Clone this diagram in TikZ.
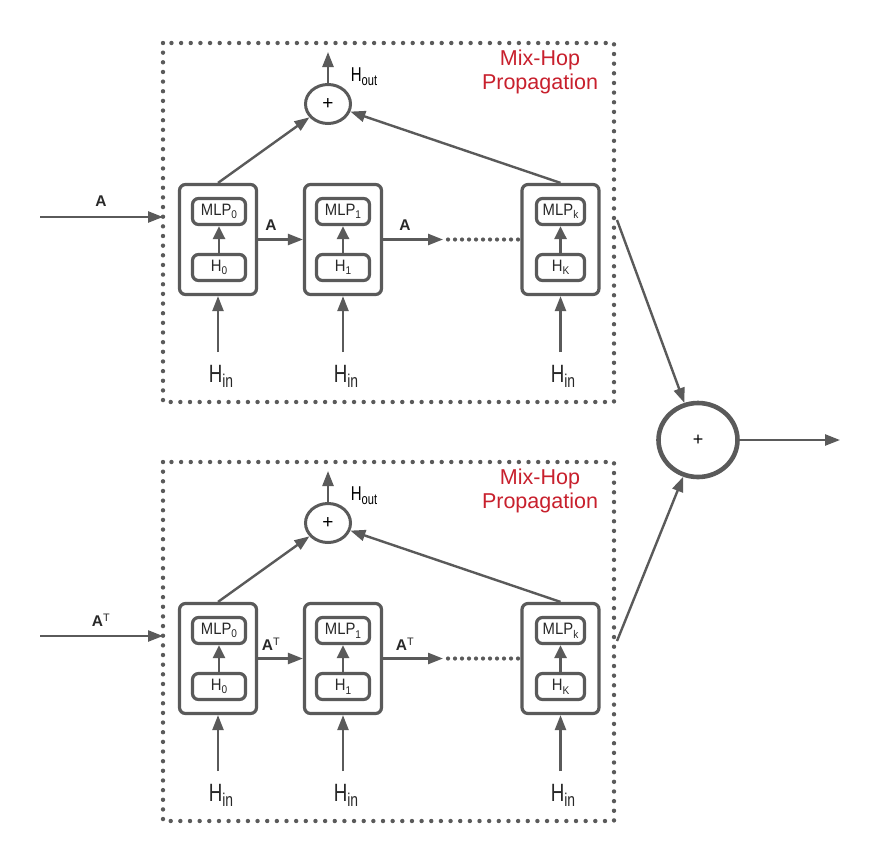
\documentclass[tikz,border=0pt]{standalone}
\usepackage{fontspec}
\setmainfont{Liberation Sans}
\newfontfamily\condfont[FakeStretch=0.75]{Liberation Sans}
\newfontfamily\midfont[FakeStretch=0.9]{Liberation Sans}
\usetikzlibrary{arrows.meta,shapes.geometric}
\definecolor{lc}{RGB}{90,90,90}
\definecolor{tc}{RGB}{40,40,40}
\definecolor{redtxt}{RGB}{200,32,45}
\newcommand\lowsub[1]{\raisebox{-0.22em}{\fontsize{0.68em}{0.8em}\selectfont #1}}
\newcommand\insub[1]{\raisebox{-0.2em}{\fontsize{0.74em}{0.8em}\selectfont #1}}
\tikzset{
  outerbox/.style={draw=lc, line width=3.2pt, rounded corners=6pt, minimum width=77pt, minimum height=110pt, inner sep=0pt},
  innerbox/.style={draw=lc, line width=3.2pt, rounded corners=6pt, minimum width=53pt, minimum height=26pt, inner sep=0pt, text=tc, font=\midfont\fontsize{16.5}{18}\selectfont},
  innerboxk/.style={innerbox, minimum width=48pt},
  arr/.style={draw=lc, line width=2.4pt, -{Triangle[length=15pt,width=11pt]}},
  smallarr/.style={draw=lc, line width=2.8pt, -{Triangle[length=13pt,width=12pt]}},
  dotbox/.style={draw=lc, line width=4.4pt, line cap=round, dash pattern=on 0pt off 9.65pt},
  dotline/.style={draw=lc, line width=4.2pt, line cap=round, dash pattern=on 0pt off 7pt},
  plusc/.style={ellipse, draw=lc, line width=3pt, minimum width=45pt, minimum height=39pt, inner sep=0pt, text=black, font=\fontsize{19}{20}\selectfont},
  bigc/.style={ellipse, draw=lc, line width=4.6pt, minimum width=79pt, minimum height=74pt, inner sep=0pt, text=black, font=\fontsize{18}{20}\selectfont},
  hin/.style={text=tc, font=\condfont\fontsize{25}{28}\selectfont, inner sep=0pt},
  hout/.style={text=black, font=\condfont\fontsize{20}{24}\selectfont, inner sep=0pt},
  alab/.style={text=tc, font=\bfseries\fontsize{15.5}{18}\selectfont, inner sep=0pt},
  redlab/.style={text=redtxt, align=center, font=\fontsize{21.5}{23.5}\selectfont, inner sep=0pt}
}
\newcommand\mixhopblock[3]{%
\begin{scope}[yshift=#2]
  \draw[dotbox] (163,43) rectangle (614,402);
  \node[redlab] (lab#1) at (540,72) {Mix-Hop\\Propagation};
  % outer boxes
  \node[outerbox] (bz#1) at (218,239.5) {};
  \node[outerbox] (bo#1) at (343,239.5) {};
  \node[outerbox] (bk#1) at (560.5,239.5) {};
  % inner boxes
  \node[innerbox] (mz#1) at (219,211.5) {MLP\lowsub{0}};
  \node[innerbox] (hz#1) at (219,267.5) {H\lowsub{0}};
  \node[innerbox] (mo#1) at (343,211.5) {MLP\lowsub{1}};
  \node[innerbox] (ho#1) at (343,267.5) {H\lowsub{1}};
  \node[innerboxk] (mk#1) at (560.5,211.5) {MLP\lowsub{k}};
  \node[innerboxk] (hk#1) at (560.5,267.5) {H\lowsub{K}};
  \draw[smallarr] (hz#1.north) -- (mz#1.south);
  \draw[smallarr] (ho#1.north) -- (mo#1.south);
  \draw[smallarr] (hk#1.north) -- (mk#1.south);
  % H_in inputs
  \coordinate (iz#1) at (218,352);
  \coordinate (io#1) at (343,352);
  \coordinate (ik#1) at (560.5,352);
  \draw[arr] (iz#1) -- (bz#1.south);
  \draw[arr] (io#1) -- (bo#1.south);
  \draw[arr] (ik#1) -- (bk#1.south);
  \node[hin] (tz#1) at (221,376) {H\insub{in}};
  \node[hin] (to#1) at (346,376) {H\insub{in}};
  \node[hin] (tk#1) at (563,376) {H\insub{in}};
  % chain
  \coordinate (dk#1) at (443,239.5);
  \draw[arr] (bz#1.east) -- (bo#1.west);
  \draw[arr] (bo#1.east) -- (dk#1);
  \draw[dotline] (dk#1) ++(5,0) -- (bk#1.west);
  \node[alab] (az#1) at (271,225) {#3};
  \node[alab] (ao#1) at (405,225) {#3};
  % input
  \coordinate (in#1) at (40,217);
  \coordinate (ie#1) at (163,217);
  \draw[arr] (in#1) -- (ie#1);
  \node[alab] (ai#1) at (101,201) {#3};
  % sum
  \node[plusc] (p#1) at (328,104) {+};
  \coordinate (po#1) at (328,52);
  \draw[arr] (p#1.north) -- (po#1);
  \node[hout] (ho#1) at (364,77) {H\insub{out}};
  \draw[arr] (bz#1.north) -- (p#1);
  \draw[arr] (bk#1.north) -- (p#1);
\end{scope}}
\begin{document}
\begin{tikzpicture}[x=1pt,y=-1pt]
  \useasboundingbox (0,0) rectangle (877,865);
  \fill[white] (0,0) rectangle (877,865);
  \mixhopblock{a}{0pt}{A}
  \mixhopblock{b}{-419pt}{A\textsuperscript{\mdseries T}}
  \node[bigc] (big) at (698,440) {+};
  \coordinate (sa) at (617,220);
  \coordinate (sb) at (617,641);
  \coordinate (out) at (840,440);
  \draw[arr] (sa) -- (big);
  \draw[arr] (sb) -- (big);
  \draw[arr] (big.east) -- (out);
\end{tikzpicture}
\end{document}
